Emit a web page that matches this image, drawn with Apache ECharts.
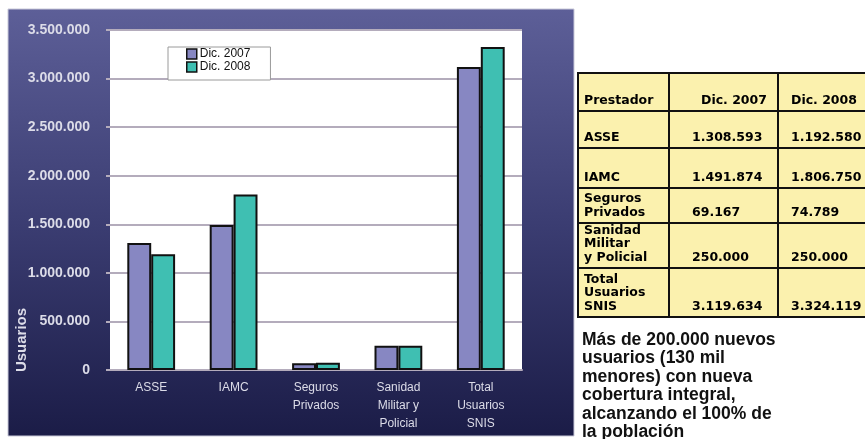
<!DOCTYPE html>
<html>
<head>
<meta charset="utf-8">
<script src="https://cdn.jsdelivr.net/npm/echarts@6/dist/echarts.min.js"></script>
<style>
  html, body { margin: 0; padding: 0; background: #fff; }
  #chart { width: 865px; height: 439px; }
</style>
</head>
<body>
<div id="chart"></div>
<script>
/* datos del gráfico */
var categorias = ['ASSE', 'IAMC', 'Seguros\nPrivados', 'Sanidad\nMilitar y\nPolicial', 'Total\nUsuarios\nSNIS'];
var filasTabla = ['ASSE', 'IAMC', 'Seguros\nPrivados', 'Sanidad\nMilitar\ny Policial', 'Total\nUsuarios\nSNIS'];
var nombresSeries = ['Dic. 2007', 'Dic. 2008'];
var dic2007 = [1308593, 1491874, 69167, 250000, 3119634];
var dic2008 = [1192580, 1806750, 74789, 250000, 3324119];
var nota = 'Más de 200.000 nuevos\nusuarios (130 mil\nmenores) con nueva\ncobertura integral,\nalcanzando el 100% de\nla población';

/* formato con punto de miles */
function fmt(v) {
    return String(v).replace(/\B(?=(\d{3})+(?!\d))/g, '.');
}

/* tabla de la derecha, armada con graphic */
var filasY = [73, 111, 148, 188, 223, 268, 317];
var colsX = [578, 669, 778, 870];
var tabla = [];
tabla.push({
    type: 'rect', z: 5,
    shape: { x: colsX[0], y: filasY[0], width: colsX[3] - colsX[0], height: filasY[6] - filasY[0] },
    style: { fill: '#fbf1ae', stroke: '#111', lineWidth: 2 }
});
for (var r = 1; r < filasY.length - 1; r++) {
    tabla.push({ type: 'line', z: 6, shape: { x1: colsX[0], y1: filasY[r], x2: colsX[3], y2: filasY[r] }, style: { stroke: '#111', lineWidth: 2 } });
}
for (var c = 1; c < 3; c++) {
    tabla.push({ type: 'line', z: 6, shape: { x1: colsX[c], y1: filasY[0], x2: colsX[c], y2: filasY[6] }, style: { stroke: '#111', lineWidth: 2 } });
}
var estiloCelda = { fill: '#000', fontFamily: 'DejaVu Sans', fontWeight: 'bold', fontSize: 12.5, lineHeight: 13.5, align: 'left', verticalAlign: 'bottom' };
function celda(txt, x, y) {
    return { type: 'text', z: 7, style: Object.assign({ text: txt, x: x, y: y }, estiloCelda) };
}
tabla.push(celda('Prestador', 584, filasY[1] - 4));
tabla.push(celda(nombresSeries[0], 701, filasY[1] - 4));
tabla.push(celda(nombresSeries[1], 791, filasY[1] - 4));
for (var i = 0; i < filasTabla.length; i++) {
    var yb = filasY[i + 2] - 4;
    tabla.push(celda(filasTabla[i], 584, yb));
    tabla.push(celda(fmt(dic2007[i]), 692, yb));
    tabla.push(celda(fmt(dic2008[i]), 791, yb));
}

var myChart = echarts.init(document.getElementById('chart'));
var option = {
    backgroundColor: '#ffffff',
    animation: false,
    color: ['#8787c2', '#3fbfb2'],
    graphic: {
        elements: [
            {
                type: 'rect', z: -100,
                shape: { x: 8, y: 9, width: 566, height: 427 },
                style: {
                    fill: new echarts.graphic.LinearGradient(0, 0, 0, 1, [
                        { offset: 0, color: '#5d5f98' },
                        { offset: 0.5, color: '#3b3d72' },
                        { offset: 1, color: '#1b1c47' }
                    ]),
                    stroke: '#c9c9d9', lineWidth: 1
                }
            },
            {
                type: 'text', z: 5,
                x: 22, y: 340, rotation: Math.PI / 2,
                style: { text: 'Usuarios', fill: '#dcdce8', fontFamily: 'Liberation Sans', fontWeight: 'bold', fontSize: 15, align: 'center', verticalAlign: 'middle' }
            },
            {
                type: 'text', z: 5,
                style: { text: nota, x: 582, y: 331, fill: '#111', fontFamily: 'Liberation Sans', fontWeight: 'bold', fontSize: 17.5, lineHeight: 18.4, align: 'left', verticalAlign: 'top' }
            }
        ].concat(tabla)
    },
    legend: {
        data: nombresSeries,
        orient: 'vertical',
        left: 168, top: 47,
        backgroundColor: '#ffffff',
        borderColor: '#9a9a9a', borderWidth: 1, borderRadius: 0,
        padding: [1, 20, 7, 18],
        itemWidth: 10, itemHeight: 10, itemGap: 1,
        icon: 'rect',
        itemStyle: { borderColor: '#111', borderWidth: 1.5 },
        textStyle: { color: '#111', fontFamily: 'Liberation Sans', fontSize: 12, padding: [0, 0, 0, -2] }
    },
    grid: {
        left: 110, right: 343, top: 30, bottom: 69,
        show: true, backgroundColor: '#ffffff', borderWidth: 0,
        containLabel: false
    },
    xAxis: {
        type: 'category',
        data: categorias,
        axisLine: { show: true, lineStyle: { color: '#b4acbc', width: 2 } },
        axisTick: { show: false },
        axisLabel: { color: '#dcdce8', fontFamily: 'Liberation Sans', fontSize: 12, lineHeight: 18, margin: 9, interval: 0 }
    },
    yAxis: {
        type: 'value',
        min: 0, max: 3500000, interval: 500000,
        axisLine: { show: false },
        axisTick: { show: true, length: 4, lineStyle: { color: '#b4acbc', width: 2 } },
        splitLine: { lineStyle: { color: '#b4acbc', width: 2 } },
        axisLabel: {
            color: '#dcdce8', fontFamily: 'Liberation Sans', fontWeight: 'bold', fontSize: 14, margin: 20,
            formatter: function (v) { return fmt(v); }
        }
    },
    series: [
        {
            name: nombresSeries[0], type: 'bar', data: dic2007,
            barGap: '0%', barCategoryGap: '42%',
            itemStyle: { borderColor: '#111', borderWidth: 2 }
        },
        {
            name: nombresSeries[1], type: 'bar', data: dic2008,
            itemStyle: { borderColor: '#111', borderWidth: 2 }
        }
    ]
};
myChart.setOption(option);
</script>
</body>
</html>
